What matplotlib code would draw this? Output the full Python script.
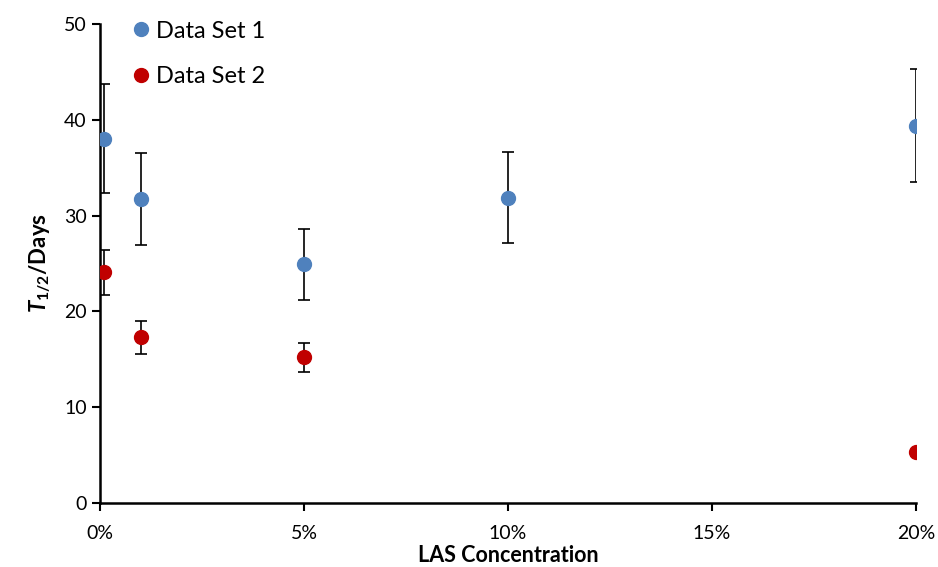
#!/usr/bin/env python3
# T1/2 vs LAS concentration, two data sets with error bars

import numpy as np
import matplotlib
matplotlib.use('Agg')
import matplotlib.pyplot as plt
from matplotlib.ticker import PercentFormatter

plt.rcParams['font.family'] = ['Lato', 'DejaVu Sans']
plt.rcParams['mathtext.fontset'] = 'custom'
plt.rcParams['mathtext.rm'] = 'Lato'
plt.rcParams['mathtext.it'] = 'Lato:italic'
plt.rcParams['mathtext.bf'] = 'Lato:bold'
plt.rcParams['mathtext.bfit'] = 'Lato:italic:bold'

# data (LAS concentration as fraction)
conc1 = [0.001, 0.01, 0.05, 0.10, 0.20]
t_half1 = [38.0, 31.7, 24.9, 31.8, 39.3]
err_lo1 = [5.7, 4.8, 3.7, 4.7, 5.8]
err_hi1 = [5.7, 4.8, 3.7, 4.8, 6.0]

conc2 = [0.001, 0.01, 0.05, 0.20]
t_half2 = [24.1, 17.3, 15.2, 5.3]
err_lo2 = [2.4, 1.7, 1.5, 0.2]
err_hi2 = [2.3, 1.7, 1.5, 0.2]

fig = plt.figure(figsize=(9.38, 5.67), dpi=100)
ax = fig.add_axes([0.1066, 0.1129, 0.87, 0.845])

ax.errorbar(conc1, t_half1, yerr=[err_lo1, err_hi1], fmt='o', ms=10, c='#4F81BD',
            ecolor='black', elinewidth=1.2, capsize=4, capthick=1.2, label='Data Set 1', zorder=3)
ax.errorbar(conc2, t_half2, yerr=[err_lo2, err_hi2], fmt='o', ms=10, c='#C00000',
            ecolor='black', elinewidth=1.2, capsize=4, capthick=1.2, label='Data Set 2', zorder=3)

ax.set_xlim(0, 0.20)
ax.set_ylim(0, 50)
ax.set_xticks(np.arange(0, 0.21, 0.05))
ax.set_yticks(np.arange(0, 51, 10))
ax.xaxis.set_major_formatter(PercentFormatter(1.0, decimals=0))
ax.tick_params(direction='out', length=6, width=1.5, labelsize=14)
ax.tick_params(axis='x', pad=10)
for s in ['top', 'right']:
    ax.spines[s].set_visible(False)
for s in ['left', 'bottom']:
    ax.spines[s].set_linewidth(1.8)

ax.set_xlabel('LAS Concentration', fontsize=15.5, fontweight='bold', labelpad=2)
ax.set_ylabel(r'$\mathbfit{T}_{\mathbf{1/2}}\mathbf{/Days}$', fontsize=16, labelpad=8)

handles, labels = ax.get_legend_handles_labels()
handles = [h[0] for h in handles]
ax.legend(handles, labels, loc='upper left', bbox_to_anchor=(0.007, 1.051), frameon=False,
          fontsize=17, handletextpad=0.05, labelspacing=1.05, handlelength=1.2)

plt.savefig('out.png')
plt.close()
